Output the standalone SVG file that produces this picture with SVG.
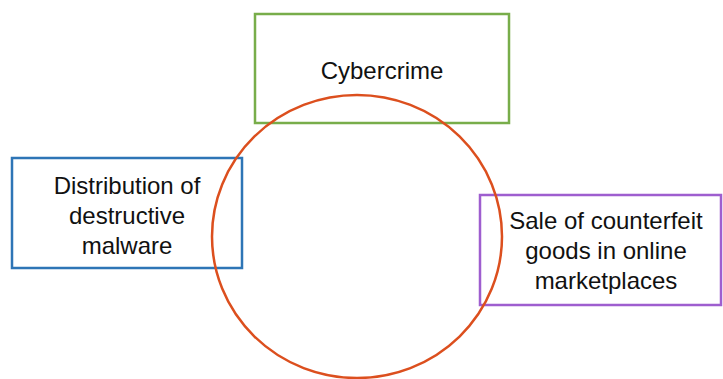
<svg xmlns="http://www.w3.org/2000/svg" width="723" height="379" viewBox="0 0 723 379">
<style>
.box{fill:none;stroke-width:2.5}
.t{font-family:"Liberation Sans",Arial,sans-serif;font-size:24px;fill:#111;text-anchor:middle}
</style>
<rect width="723" height="379" fill="#fff"/>
<g id="cybercrime">
<rect class="box" x="255" y="14" width="254" height="109" stroke="#78AD4A"/>
<text class="t" x="382" y="79">Cybercrime</text>
</g>
<g id="malware">
<rect class="box" x="12" y="158" width="230" height="110" stroke="#2E75B6"/>
<text class="t" x="127" y="194">Distribution of</text>
<text class="t" x="127" y="224">destructive</text>
<text class="t" x="127" y="254">malware</text>
</g>
<g id="counterfeit">
<rect class="box" x="480" y="195" width="241" height="110" stroke="#9E5ECF"/>
<text class="t" x="606" y="229">Sale of counterfeit</text>
<text class="t" x="606" y="259">goods in online</text>
<text class="t" x="606" y="289">marketplaces</text>
</g>
<g id="connectors">
<ellipse cx="357" cy="236.5" rx="145" ry="141.5" fill="none" stroke="#DC4F1E" stroke-width="2.5"/>
</g>
</svg>
